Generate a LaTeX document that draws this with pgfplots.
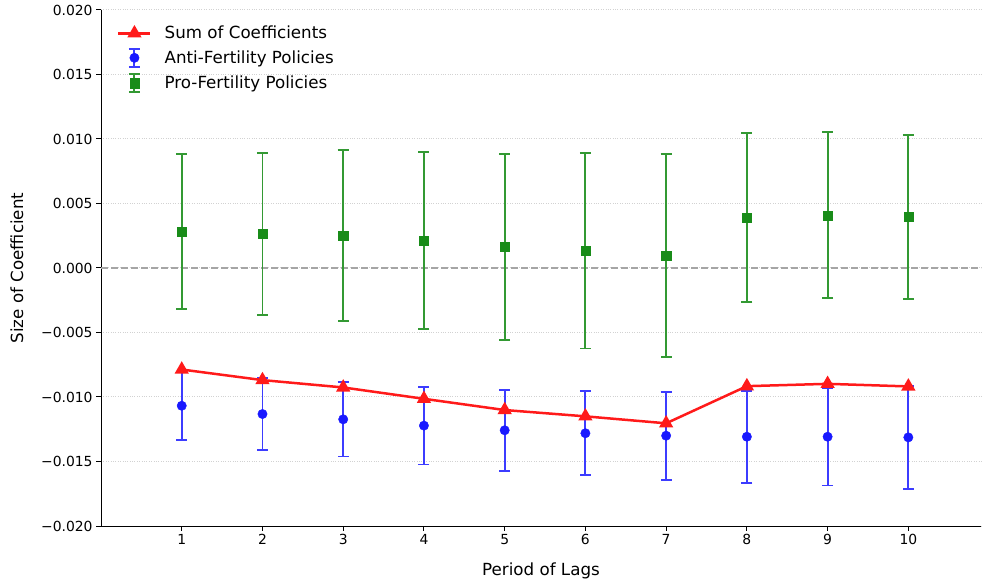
\documentclass[border=0pt]{standalone}
\usepackage{fontspec}
\setmainfont{DejaVu Sans}
\usepackage{pgfplots}
\pgfplotsset{compat=1.18}
\usepackage{pgfplotstable}

\definecolor{myred}{RGB}{255,26,26}
\definecolor{myblue}{RGB}{25,25,255}
\definecolor{mybluebar}{RGB}{60,60,255}
\definecolor{mygreen}{RGB}{25,140,25}
\definecolor{mygreenbar}{RGB}{51,153,51}
\definecolor{gridgray}{RGB}{210,210,210}
\definecolor{zerogray}{RGB}{165,165,165}

\pgfplotsset{
  errlegend/.style={legend image code/.code={
    \path[draw=none, fill=none] (0bp,0bp) -- (32bp,0bp);
    \draw[draw=#1, line width=1.9bp] (16bp,-9bp) -- (16bp,9bp)
      (10.5bp,-9bp) -- (21.5bp,-9bp) (10.5bp,9bp) -- (21.5bp,9bp);
    \draw[##1] plot coordinates {(16bp,0bp)};
  }},
  linelegend/.style={legend image code/.code={
    \draw[mark repeat=2, mark phase=2, ##1] plot coordinates {(0bp,0bp) (16bp,0bp) (32bp,0bp)};
  }},
}

\pgfplotstableread{
x y e
1 0.00282 0.00600
2 0.00264 0.00626
3 0.00251 0.00663
4 0.00213 0.00689
5 0.00164 0.00719
6 0.00133 0.00757
7 0.00097 0.00787
8 0.00390 0.00653
9 0.00408 0.00643
10 0.00395 0.00637
}\protable

\pgfplotstableread{
x y e
1 -0.01068 0.00265
2 -0.01132 0.00277
3 -0.01173 0.00288
4 -0.01222 0.00301
5 -0.01258 0.00314
6 -0.01281 0.00327
7 -0.01300 0.00341
8 -0.01308 0.00357
9 -0.01308 0.00378
10 -0.01313 0.00398
}\antitable

\pgfplotstableread{
x y
1 -0.00787
2 -0.00869
3 -0.00926
4 -0.01014
5 -0.01101
6 -0.01150
7 -0.01204
8 -0.00916
9 -0.00898
10 -0.00918
}\sumtable

\begin{document}
\begin{tikzpicture}
\useasboundingbox (0,0) rectangle (982bp,586bp);
\begin{axis}[
  at={(101bp,60bp)}, anchor=south west,
  scale only axis, width=880bp, height=516bp,
  xmin=0, xmax=10.9, ymin=-0.02, ymax=0.02,
  axis x line*=bottom, axis y line*=left,
  axis line style={line width=1bp, black},
  tick align=outside, major tick length=4.9bp,
  every tick/.style={black, line width=1bp},
  xtick={1,2,3,4,5,6,7,8,9,10},
  ytick={-0.02,-0.015,-0.01,-0.005,0,0.005,0.01,0.015,0.02},
  yticklabels={−0.020,−0.015,−0.010,−0.005,0.000,0.005,0.010,0.015,0.020},
  /pgf/number format/assume math mode=true,
  ticklabel style={font=\fontsize{13.9bp}{16bp}\selectfont},
  ymajorgrids, major grid style={gridgray, dotted, line width=1bp},
  xlabel={Period of Lags}, ylabel={Size of Coefficient},
  label style={font=\fontsize{16.7bp}{20bp}\selectfont},
  xlabel style={at={(axis description cs:0.5,-0.0872)}, anchor=center},
  ylabel style={at={(axis description cs:-0.0955,0.5)}, anchor=center},
  reverse legend,
  legend cell align=left,
  legend style={at={(axis description cs:0,1)}, anchor=north west,
    draw=none, fill=none, font=\fontsize{16.7bp}{20bp}\selectfont,
    inner xsep=0pt, inner ysep=0pt, xshift=16bp, yshift=-14bp, row sep=5.5bp,
    /tikz/every odd column/.append style={column sep=11bp}},
]
\addplot[forget plot, zerogray, line width=1.4bp, dash pattern=on 7bp off 3bp]
  coordinates {(0,0) (10.9,0)};

\addplot[only marks, mark=square*, mark size=4.6bp,
  mark options={fill=mygreen, draw=mygreen, solid},
  errlegend=mygreenbar,
  error bars/.cd, y dir=both, y explicit,
  error bar style={mygreenbar, line width=1.9bp},
  error mark options={mygreenbar, line width=1.9bp, mark size=5.5bp, rotate=90}]
  table[x=x, y=y, y error=e] {\protable};
\addlegendentry{Pro-Fertility Policies}

\addplot[only marks, mark=*, mark size=4.7bp,
  mark options={fill=myblue, draw=myblue, solid},
  errlegend=mybluebar,
  error bars/.cd, y dir=both, y explicit,
  error bar style={mybluebar, line width=1.9bp},
  error mark options={mybluebar, line width=1.9bp, mark size=5.5bp, rotate=90}]
  table[x=x, y=y, y error=e] {\antitable};
\addlegendentry{Anti-Fertility Policies}

\addplot[myred, line width=2.5bp, mark=triangle*, mark size=5.8bp,
  mark options={fill=myred, draw=myred, solid}, linelegend]
  table[x=x, y=y] {\sumtable};
\addlegendentry{Sum of Coefficients}
\end{axis}
\end{tikzpicture}
\end{document}
